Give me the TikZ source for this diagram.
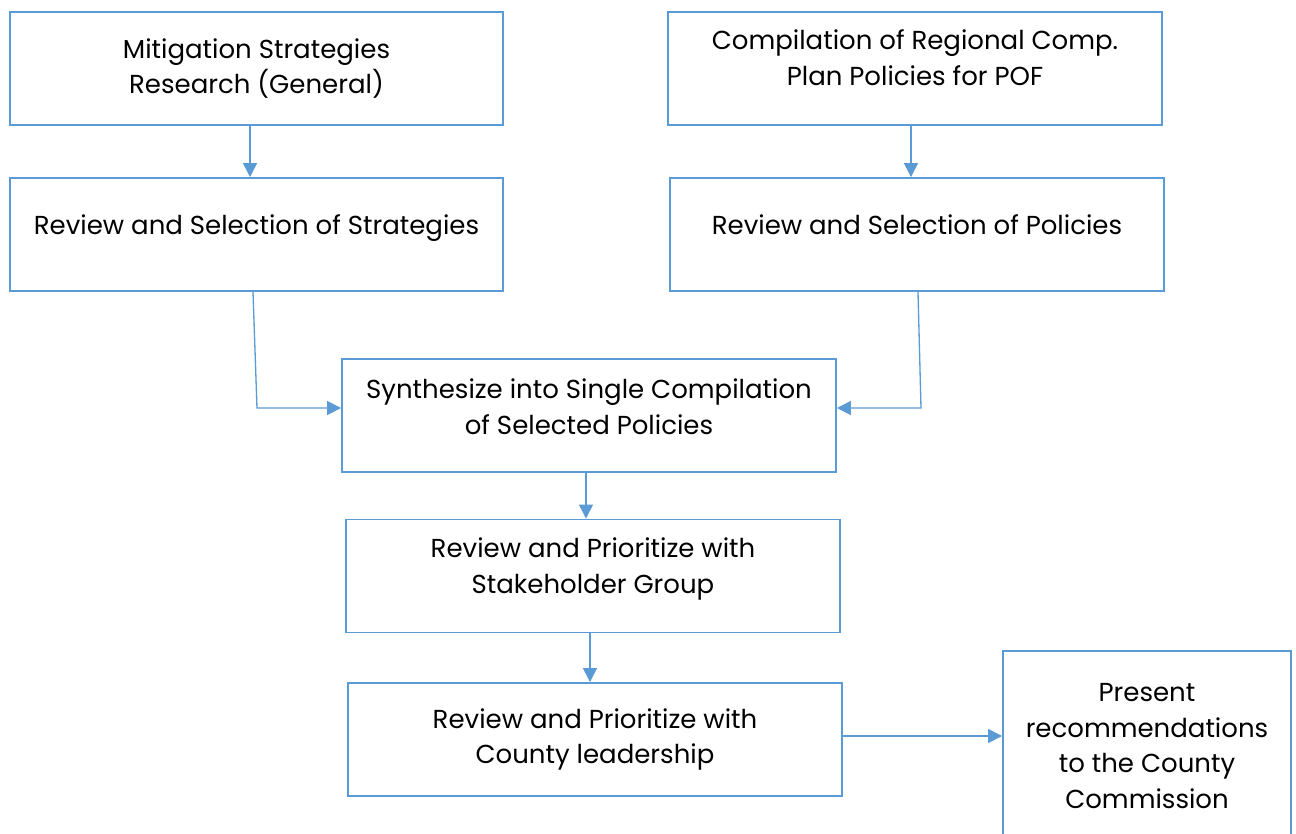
\documentclass[tikz,border=0pt]{standalone}
\usepackage{fontspec}
\setmainfont{Poppins}
\usetikzlibrary{arrows.meta}
\definecolor{boxblue}{HTML}{5B9BD5}

\begin{document}
\begin{tikzpicture}[x=0.02cm, y=-0.02cm, font=\fontsize{14.8}{20.3}\selectfont,
	box/.style={draw=boxblue, line width=1.1pt, align=center, minimum width=9.86cm, minimum height=2.26cm, inner sep=2pt},
	up/.style={text depth=#1},
	arr/.style={draw=boxblue, line width=0.75pt, -{Triangle[length=0.28cm,width=0.28cm]}}]
		\clip (0,0) rectangle (1296,833);
		\fill[white] (0,0) rectangle (1296,833);
		%boxes
		\node[box] (mitig) at (256.5,68.5) {Mitigation Strategies\\Research (General)};
		\node[box, up=0.41cm] (revstrat) at (256.5,234.5) {Review and Selection of Strategies};
		\node[box, minimum width=9.88cm, up=0.44cm] (comp) at (915,68.5) {Compilation of Regional Comp.\\Plan Policies for POF};
		\node[box, minimum width=9.88cm, up=0.4cm] (revpol) at (917,234.5) {Review and Selection of Policies};
		\node[box, minimum width=9.88cm, up=0.36cm] (synth) at (589,415.5) {Synthesize into Single Compilation\\of Selected Policies};
		\node[box, minimum width=9.88cm, up=0.41cm] (stake) at (593,576) {Review and Prioritize with\\Stakeholder Group};
		\node[box, minimum width=9.88cm] (county) at (595,739.5) {Review and Prioritize with\\County leadership};
		\node[box, minimum width=5.76cm, minimum height=3.8cm] (present) at (1147,746)
		{Present\\recommendations\\to the County\\Commission};
		%bends
		\coordinate (bendL) at (257,408);
		\coordinate (bendR) at (921,408);
		%arrows
		\draw[arr] ([xshift=-0.13cm]mitig.south) -- ([xshift=-0.13cm]revstrat.north);
		\draw[arr] ([xshift=-0.08cm]comp.south) -- ([xshift=-0.08cm]comp.south |- revpol.north);
		\draw[arr] ([xshift=-0.07cm]revstrat.south) -- (bendL) -- (bendL -| synth.west);
		\draw[arr] ([xshift=0.02cm]revpol.south) -- (bendR) -- (bendR -| synth.east);
		\draw[arr] ([xshift=-0.06cm]synth.south) -- ([xshift=-0.06cm]synth.south |- stake.north);
		\draw[arr] ([xshift=-0.06cm]stake.south) -- ([xshift=-0.06cm]stake.south |- county.north);
		\draw[arr] ([yshift=0.07cm]county.east) -- ([yshift=0.07cm]county.east -| present.west);
\end{tikzpicture}
\end{document}
